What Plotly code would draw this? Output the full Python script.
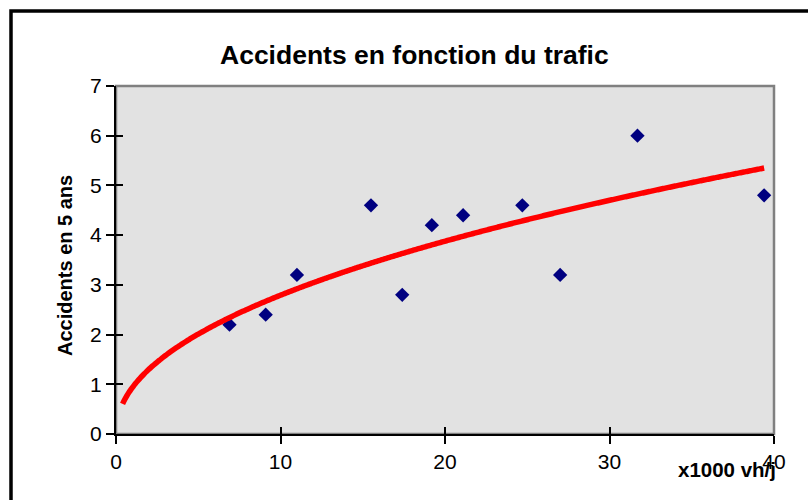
import numpy as np
import plotly.graph_objects as go

# Observed sites: daily traffic (thousands of vehicles) and accidents over 5 years
traffic = [6.9, 9.1, 11.0, 15.5, 17.4, 19.2, 21.1, 24.7, 27.0, 31.7, 39.4]
accidents = [2.2, 2.4, 3.2, 4.6, 2.8, 4.2, 4.4, 4.6, 3.2, 6.0, 4.8]

x_ticks = [0, 10, 20, 30, 40]
y_ticks = [0, 1, 2, 3, 4, 5, 6, 7]

title_text = "Accidents en fonction du trafic"
y_title = "Accidents en 5 ans"
x_title = "x1000 vh/j"

# Power trendline y = a * x^b, fitted in log-log space, extended back toward 0
trend_start = 0.4
b, ln_a = np.polyfit(np.log(traffic), np.log(accidents), 1)
trend_x = np.linspace(trend_start, max(traffic), 300)
trend_y = np.exp(ln_a) * trend_x ** b

FONT = "Liberation Sans, Arial, sans-serif"
W, H = 808, 500
L, R, T, B = 116, 34, 86, 66
pw, ph = W - L - R, H - T - B

fig = go.Figure()
fig.add_trace(go.Scatter(
    x=traffic, y=accidents, mode="markers",
    marker=dict(symbol="diamond", size=11, color="#000080", line=dict(width=0)),
    showlegend=False, hoverinfo="x+y"))
fig.add_trace(go.Scatter(
    x=trend_x, y=trend_y, mode="lines",
    line=dict(color="#FF0000", width=5.5, shape="spline"),
    showlegend=False, hoverinfo="skip"))
# empty trace so the overlay axes (inner half of the cross ticks) are drawn
fig.add_trace(go.Scatter(x=[], y=[], xaxis="x2", yaxis="y2",
                         showlegend=False, hoverinfo="skip"))

axis_common = dict(showgrid=False, zeroline=False, fixedrange=True)
fig.update_layout(
    width=W, height=H,
    margin=dict(l=L, r=R, t=T, b=B),
    paper_bgcolor="white", plot_bgcolor="#E2E2E2",
    font=dict(family=FONT, size=21, color="black"),
    xaxis=dict(range=[0, 40], tickvals=x_ticks, ticks="outside", ticklen=8,
               tickwidth=1.5, tickcolor="black", showline=True, linecolor="black",
               linewidth=2, tickfont=dict(size=21), **axis_common),
    yaxis=dict(range=[0, 7], tickvals=y_ticks, ticks="outside", ticklen=8,
               tickwidth=1.5, tickcolor="black", showline=True, linecolor="black",
               linewidth=2, tickfont=dict(size=21), **axis_common),
    xaxis2=dict(range=[0, 40], tickvals=x_ticks, overlaying="x", ticks="inside",
                ticklen=7, tickwidth=1.5, tickcolor="black", showticklabels=False,
                showline=False, **axis_common),
    yaxis2=dict(range=[0, 7], tickvals=y_ticks, overlaying="y", ticks="inside",
                ticklen=7, tickwidth=1.5, tickcolor="black", showticklabels=False,
                showline=False, **axis_common),
    shapes=[
        # gray plot-area border (top and right show; left/bottom covered by axes)
        dict(type="rect", xref="paper", yref="paper", x0=0, x1=1, y0=0, y1=1,
             line=dict(color="#808080", width=2.5), layer="below"),
        # black chart frame
        dict(type="rect", xref="paper", yref="paper",
             x0=(11 - L) / pw, x1=1.2, y0=-0.4, y1=1 + (T - 11) / ph,
             line=dict(color="black", width=3.5)),
    ],
    annotations=[
        dict(text=f"<b>{title_text}</b>", xref="paper", yref="paper",
             x=(414 - L) / pw, y=1 + (T - 55) / ph, xanchor="center",
             yanchor="middle", showarrow=False, font=dict(size=26.5)),
        dict(text=f"<b>{y_title}</b>", xref="paper", yref="paper",
             x=(65 - L) / pw, y=(H - B - 266) / ph, xanchor="center",
             yanchor="middle", textangle=-90, showarrow=False,
             font=dict(size=20)),
        dict(text=f"<b>{x_title}</b>", xref="paper", yref="paper",
             x=(727 - L) / pw, y=(H - B - 469) / ph, xanchor="center",
             yanchor="middle", showarrow=False, font=dict(size=20.5)),
    ],
)

fig.write_html("out.html")
